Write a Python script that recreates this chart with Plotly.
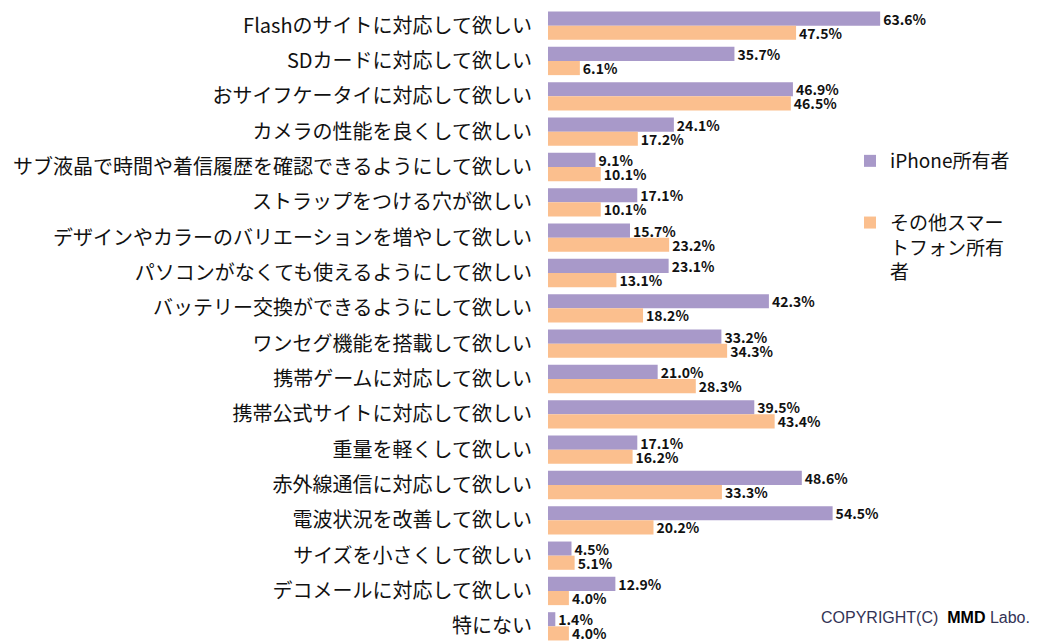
import plotly.graph_objects as go

categories = [
    "Flashのサイトに対応して欲しい",
    "SDカードに対応して欲しい",
    "おサイフケータイに対応して欲しい",
    "カメラの性能を良くして欲しい",
    "サブ液晶で時間や着信履歴を確認できるようにして欲しい",
    "ストラップをつける穴が欲しい",
    "デザインやカラーのバリエーションを増やして欲しい",
    "パソコンがなくても使えるようにして欲しい",
    "バッテリー交換ができるようにして欲しい",
    "ワンセグ機能を搭載して欲しい",
    "携帯ゲームに対応して欲しい",
    "携帯公式サイトに対応して欲しい",
    "重量を軽くして欲しい",
    "赤外線通信に対応して欲しい",
    "電波状況を改善して欲しい",
    "サイズを小さくして欲しい",
    "デコメールに対応して欲しい",
    "特にない",
]
iphone = [63.6, 35.7, 46.9, 24.1, 9.1, 17.1, 15.7, 23.1, 42.3, 33.2, 21.0, 39.5, 17.1, 48.6, 54.5, 4.5, 12.9, 1.4]
other = [47.5, 6.1, 46.5, 17.2, 10.1, 10.1, 23.2, 13.1, 18.2, 34.3, 28.3, 43.4, 16.2, 33.3, 20.2, 5.1, 4.0, 4.0]
series_names = ["iPhone所有者", "その他スマー<br>トフォン所有<br>者"]
colors = ["#A899C9", "#FBBF8E"]

font_jp = "Noto Sans CJK JP"

L, T, W, H = 548, 8, 493, 636

fig = go.Figure()
for i, (vals, name) in enumerate(zip([iphone, other], series_names)):
    fig.add_trace(go.Bar(
        y=categories, x=vals, orientation="h", name=name,
        marker=dict(color=colors[i], line=dict(width=0)),
        text=[f"{v:.1f}%" for v in vals], textposition="outside",
        textfont=dict(family=font_jp, size=14, color="#111111", weight="bold"),
        constraintext="none",
        cliponaxis=False, legendgroup=f"g{i}",
    ))

fig.update_layout(
    width=1041, height=644,
    margin=dict(l=L, r=0, t=T, b=0, autoexpand=False),
    paper_bgcolor="white", plot_bgcolor="white",
    barmode="group", bargap=0.2, bargroupgap=0,
    showlegend=True,
    legend=dict(x=(850 - L) / W, y=1 - (142 - T) / H, xanchor="left", yanchor="top",
                font=dict(family=font_jp, size=19, color="#111111"),
                traceorder="grouped", tracegroupgap=34, bgcolor="rgba(0,0,0,0)",
                itemwidth=30, valign="top"),
    xaxis=dict(range=[0, 94.4], visible=False, fixedrange=True, automargin=False),
    yaxis=dict(autorange="reversed", showline=False, showgrid=False, ticks="",
               ticklabelstandoff=15, automargin=False,
               tickfont=dict(family=font_jp, size=20, color="#111111")),
    font=dict(family=font_jp),
    annotations=[dict(
        x=(1032 - L) / W, y=1 - (617 - T) / H, xref="paper", yref="paper", showarrow=False,
        text="COPYRIGHT(C)  <b><span style='color:#000000'>MMD</span></b> Labo.",
        font=dict(family="Liberation Sans", size=16, color="#333355"),
        xanchor="right", yanchor="middle",
    )],
)

fig.write_html("out.html", config={"displayModeBar": False},
               post_script="document.body.style.margin='0';document.body.style.overflow='hidden';")
